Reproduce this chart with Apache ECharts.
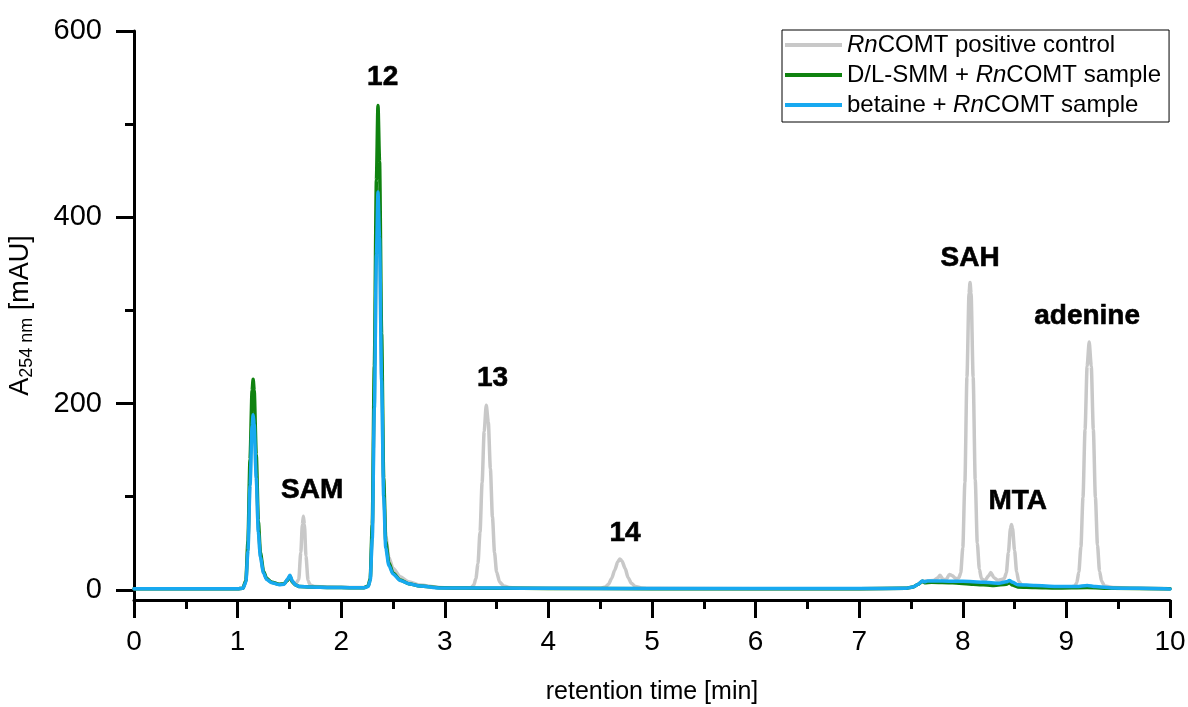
<!DOCTYPE html>
<html>
<head>
<meta charset="utf-8">
<title>HPLC chromatogram</title>
<script src="https://cdn.jsdelivr.net/npm/echarts@6/dist/echarts.min.js"></script>
<style>
  html, body { margin: 0; padding: 0; background: #fff; }
  #chart { width: 1188px; height: 707px; }
</style>
</head>
<body>
<div id="chart"></div>
<script>
// Retention time [min] / absorbance at 254 nm [mAU]
const controlTrace = [
  [0,1],[0.5,1],[1.0,1],[1.05,1.5],[1.08,9],[1.10,45],[1.12,120],[1.14,180],[1.15,190],[1.16,180],
  [1.18,122],[1.20,64],[1.22,36],[1.25,19],[1.28,12],[1.33,8],[1.40,6],[1.45,6.5],[1.48,11],[1.505,15],
  [1.53,9],[1.56,6],[1.59,11],[1.61,40],[1.625,70],[1.635,79],[1.645,70],[1.66,36],[1.68,10],[1.70,5],
  [1.75,3.5],[1.9,3],[2.1,2.5],[2.22,2.5],[2.26,4],[2.28,10],[2.30,60],[2.32,200],[2.34,360],[2.355,430],
  [2.37,380],[2.39,230],[2.41,110],[2.43,58],[2.46,35],[2.50,23],[2.57,14],[2.65,8.5],[2.76,5],[2.95,2.5],
  [3.10,2],[3.25,2],[3.28,5],[3.30,12],[3.32,28],[3.34,62],[3.36,115],[3.38,170],[3.40,198],[3.42,180],
  [3.44,130],[3.46,78],[3.48,40],[3.50,19],[3.53,8],[3.57,4],[3.62,2.5],[3.75,1.5],[4.0,1.5],[4.50,1.5],
  [4.55,3],[4.58,6],[4.61,12],[4.64,21],[4.67,30],[4.69,33],[4.71,31],[4.74,23],[4.77,13],[4.80,7],
  [4.84,3.5],[4.90,2],[5.0,1.5],[6.0,1.2],[7.0,1.2],[7.45,1.5],[7.52,3],[7.57,6],[7.61,9],[7.65,9.5],
  [7.72,10],[7.76,13],[7.78,15.5],[7.81,11],[7.84,11],[7.87,16.5],[7.90,15],[7.93,12],[7.96,12.5],[7.98,18],
  [8.00,45],[8.02,115],[8.04,228],[8.06,318],[8.07,330],[8.08,318],[8.10,228],[8.12,118],[8.14,50],[8.16,22],
  [8.18,12],[8.21,9.5],[8.25,15],[8.27,18.5],[8.30,13],[8.34,10],[8.37,11],[8.40,12],[8.42,18],[8.44,40],
  [8.46,66],[8.47,70],[8.48,66],[8.50,42],[8.52,19],[8.54,9],[8.57,5],[8.62,4],[8.75,3],[9.0,3],
  [9.05,3],[9.08,4],[9.10,7.5],[9.12,19],[9.14,46],[9.16,99],[9.18,172],[9.20,240],[9.22,266],[9.24,240],
  [9.26,172],[9.28,99],[9.30,48],[9.32,20],[9.34,9],[9.37,4],[9.45,2.5],[9.7,1.5],[10,1]
];

const smmTrace = [
  [0,1],[0.5,1],[1.0,1],[1.05,1.5],[1.08,10],[1.10,52],[1.12,140],[1.14,214],[1.15,226],[1.16,214],
  [1.18,145],[1.20,74],[1.22,40],[1.25,20],[1.28,12],[1.33,8],[1.40,6],[1.45,6.5],[1.48,10],[1.505,14],
  [1.53,8],[1.56,5],[1.6,3.5],[1.7,3],[1.9,2.5],[2.1,2.2],[2.22,2.2],[2.26,4],[2.28,12],[2.30,70],
  [2.32,240],[2.34,440],[2.355,520],[2.37,460],[2.39,275],[2.41,120],[2.43,52],[2.46,29],[2.50,18],[2.57,10.5],
  [2.65,6.5],[2.76,4],[2.95,2.2],[3.2,1.8],[3.5,1.6],[4.0,1.4],[5.0,1.2],[6.0,1.2],[7.0,1.2],[7.45,1.5],
  [7.52,3],[7.57,6],[7.61,9],[7.63,7.5],[7.7,8],[7.9,7.5],[8.1,6],[8.3,4.5],[8.42,6],[8.45,7.5],
  [8.48,5],[8.53,3],[8.7,2.5],[8.9,2],[9.2,2.5],[9.45,1.5],[10,1]
];

const betaineTrace = [
  [0,1],[0.5,1],[1.0,1],[1.05,1.5],[1.08,8],[1.10,42],[1.12,112],[1.14,176],[1.15,188],[1.16,178],
  [1.18,120],[1.20,62],[1.22,35],[1.25,18],[1.28,11],[1.33,7.5],[1.40,5.5],[1.45,6],[1.48,11],[1.505,15.5],
  [1.53,9],[1.56,5],[1.6,3.5],[1.7,3],[1.9,2.5],[2.1,2.2],[2.22,2.2],[2.26,3.5],[2.28,10],[2.30,55],
  [2.32,195],[2.34,360],[2.355,427],[2.37,378],[2.39,225],[2.41,100],[2.43,45],[2.46,26],[2.50,17],[2.57,10],
  [2.65,6.5],[2.76,4],[2.95,2],[3.2,1.8],[3.5,1.8],[4.0,1.5],[5.0,1.3],[6.0,1.3],[7.0,1.3],[7.45,1.5],
  [7.52,3],[7.57,6],[7.61,9.5],[7.63,8.5],[7.66,9.5],[7.8,9.5],[8.0,9],[8.2,8],[8.35,7],[8.42,8.5],
  [8.45,10],[8.48,8],[8.53,5.5],[8.7,4.5],[8.9,3.5],[9.1,3.5],[9.2,4.7],[9.28,3.5],[9.45,2],[9.7,1.5],
  [10,0.8]
];

const seriesNames = ['RnCOMT positive control', 'D/L-SMM + RnCOMT sample', 'betaine + RnCOMT sample'];

// Peak annotations: name, retention time, label height [mAU]
const peakNames = ['SAM', '12', '13', '14', 'SAH', 'MTA', 'adenine'];
const peakLabelTimes = [1.72, 2.40, 3.46, 4.74, 8.07, 8.53, 9.20];
const peakLabelHeights = [107, 550, 227, 61, 356, 95, 294];

const xTicks = [0, 1, 2, 3, 4, 5, 6, 7, 8, 9, 10];
const yTicks = [0, 200, 400, 600];
const yMinorTicks = [100, 300, 500];

const FONT = "'Liberation Sans', Arial, Helvetica, sans-serif";
const colors = ['#c8c8c8', '#0f820f', '#17a9f0'];

const chart = echarts.init(document.getElementById('chart'), null, { renderer: 'canvas' });

const yBase = {
  type: 'value',
  min: -11,
  max: 600,
  position: 'left',
  splitLine: { show: false },
  axisLine: { show: true, lineStyle: { color: '#000', width: 3 } }
};

const option = {
  animation: false,
  backgroundColor: '#fff',
  grid: { left: 134, right: 18, top: 31, bottom: 107, containLabel: false, outerBoundsMode: 'none' },
  legend: {
    data: seriesNames,
    orient: 'vertical',
    left: 782,
    top: 30,
    icon: 'rect',
    itemWidth: 57,
    itemHeight: 4,
    itemGap: 6,
    padding: [3, 8, 5, 3],
    borderColor: '#000',
    borderWidth: 1,
    selectedMode: false,
    formatter: name => name.replace('Rn', '{i|Rn}'),
    textStyle: {
      fontFamily: FONT, fontSize: 24, color: '#000', lineHeight: 24,
      rich: { i: { fontFamily: FONT, fontSize: 24, fontStyle: 'italic', color: '#000', lineHeight: 24 } }
    }
  },
  xAxis: {
    type: 'value',
    min: 0,
    max: 10,
    interval: 1,
    name: 'retention time [min]',
    nameLocation: 'middle',
    nameGap: 80,
    nameTextStyle: { fontFamily: FONT, fontSize: 25, color: '#000' },
    axisLine: { onZero: false, lineStyle: { color: '#000', width: 3 } },
    axisTick: { show: true, inside: false, length: 18, lineStyle: { color: '#000', width: 3 } },
    minorTick: { show: true, splitNumber: 2, length: 9, lineStyle: { color: '#000', width: 3 } },
    axisLabel: {
      margin: 28, fontFamily: FONT, fontSize: 28, color: '#000',
      customValues: xTicks
    },
    splitLine: { show: false }
  },
  yAxis: [
    Object.assign({}, yBase, {
      name: 'A{sub|254 nm} [mAU]',
      nameLocation: 'middle',
      nameGap: 98,
      nameRotate: 90,
      nameTextStyle: {
        fontFamily: FONT, fontSize: 27, color: '#000', lineHeight: 30,
        rich: { sub: { fontFamily: FONT, fontSize: 18, color: '#000', verticalAlign: 'bottom', lineHeight: 30, padding: [12, 0, 0, 0] } }
      },
      axisTick: { show: true, inside: false, length: 18, lineStyle: { color: '#000', width: 3 }, customValues: yTicks },
      axisLabel: { margin: 32, fontFamily: FONT, fontSize: 29, color: '#000', customValues: yTicks }
    }),
    Object.assign({}, yBase, {
      axisLine: { show: false },
      axisTick: { show: true, inside: false, length: 9, lineStyle: { color: '#000', width: 3 }, customValues: yMinorTicks },
      axisLabel: { show: false }
    })
  ],
  series: [
    { name: seriesNames[0], data: controlTrace, color: colors[0] },
    { name: seriesNames[1], data: smmTrace, color: colors[1] },
    { name: seriesNames[2], data: betaineTrace, color: colors[2] }
  ].map(s => Object.assign({
    type: 'line',
    showSymbol: false,
    symbol: 'none',
    smooth: 0.25,
    smoothMonotone: 'x',
    lineStyle: { width: 3.5, join: 'round', cap: 'round' },
    emphasis: { disabled: true },
    silent: true,
    z: 2
  }, s)).concat([{
    type: 'scatter',
    name: 'peaks',
    symbolSize: 0,
    silent: true,
    z: 5,
    itemStyle: { opacity: 1 },
    data: peakNames.map((n, i) => ({ name: n, value: [peakLabelTimes[i], peakLabelHeights[i]] })),
    label: {
      show: true,
      position: 'inside',
      formatter: '{b}',
      fontFamily: FONT,
      fontSize: 28,
      fontWeight: 'bold',
      color: '#000',
      opacity: 1,
      textBorderColor: '#000',
      textBorderWidth: 0.6
    }
  }])
};

chart.setOption(option);
</script>
</body>
</html>
